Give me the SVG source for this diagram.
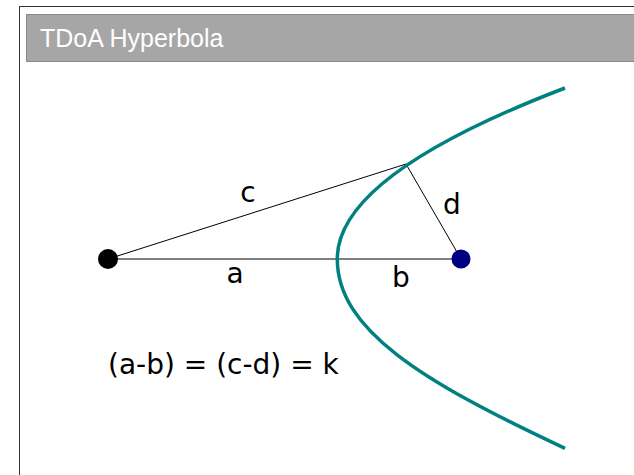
<svg xmlns="http://www.w3.org/2000/svg" width="634" height="475" viewBox="0 0 634 475">
  <style>
    .lbl { font-family: "DejaVu Sans", sans-serif; font-size: 28px; fill: #000; }
    .title { font-family: "Liberation Sans", Arial, sans-serif; font-size: 25px; fill: #ffffff; }
    .edge { stroke: #000; stroke-width: 1; fill: none; }
  </style>
  <rect x="0" y="0" width="634" height="475" fill="#ffffff"/>
  <g id="frame">
    <rect x="19.5" y="6.5" width="700" height="560" fill="#ffffff" stroke="#333333" stroke-width="1"/>
    <rect x="26.5" y="14.5" width="700" height="47" fill="#a6a6a6" stroke="#8a8a8a" stroke-width="1"/>
    <text class="title" x="40" y="47">TDoA Hyperbola</text>
  </g>
  <g id="connectors">
    <line class="edge" x1="108" y1="259" x2="461" y2="259"/>
    <line class="edge" x1="108" y1="259" x2="406" y2="164"/>
    <line class="edge" x1="406" y1="164" x2="461" y2="259"/>
  </g>
  <g id="hyperbola">
    <path d="M565,88 C425,141.6 337,199 337.3,259 C337.3,329 420,380.6 565,448.3" fill="none" stroke="#008080" stroke-width="3.5"/>
  </g>
  <g id="node-left">
    <circle cx="108" cy="259" r="10" fill="#000000"/>
  </g>
  <g id="node-right">
    <circle cx="461" cy="259" r="9.5" fill="#000080"/>
  </g>
  <g id="labels">
    <text class="lbl" x="248" y="202" text-anchor="middle">c</text>
    <text class="lbl" x="235" y="283" text-anchor="middle">a</text>
    <text class="lbl" x="401" y="287" text-anchor="middle">b</text>
    <text class="lbl" x="452" y="214" text-anchor="middle">d</text>
    <text class="lbl" x="108" y="374">(a-b) = (c-d) = k</text>
  </g>
</svg>
